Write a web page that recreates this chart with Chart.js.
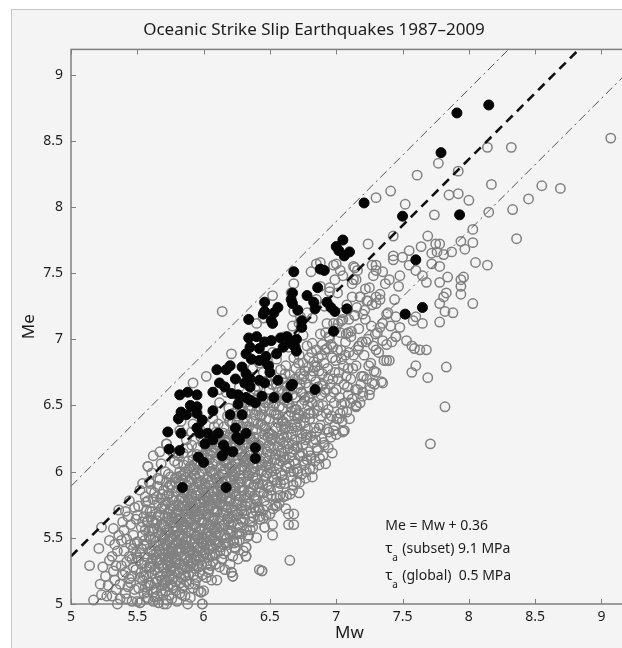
<!DOCTYPE html>
<html>
<head>
<meta charset="utf-8">
<title>Oceanic Strike Slip Earthquakes 1987–2009</title>
<script src="https://cdn.jsdelivr.net/npm/chart.js@4.4.1/dist/chart.umd.min.js"></script>
<style>
  html, body { margin: 0; padding: 0; background: #fff; }
  body { width: 622px; height: 648px; overflow: hidden; position: relative; }
  #panel { position: absolute; left: 11px; top: 9px; width: 700px; height: 700px;
           background: #f4f4f4; border-left: 1px solid #c6c6c6; border-top: 1px solid #c6c6c6; }
  #chart { position: absolute; left: 0; top: 0; }
</style>
</head>
<body>
<div id="panel"></div>
<canvas id="chart" width="704" height="648"></canvas>
<script>
// Axis ranges
const xRange = [5, 9.2];
const yRange = [5, 9.19];
const tickStep = 0.5;

// Reference lines, [Mw, Me] end points
const fitLine = [[5.0, 5.36], [8.84, 9.2]];     // Me = Mw + 0.36
const upperLine = [[5.0, 5.89], [8.31, 9.2]];
const lowerLine = [[5.18, 5.0], [9.2, 9.02]];

// Text block in the lower right
const noteLines = ['Me = Mw + 0.36', '(subset) 9.1 MPa', '(global)  0.5 MPa'];
const noteAnchorMw = 7.37;
const noteRowsMe = [5.59, 5.415, 5.21];

// Subset events (filled), [Mw, Me]
const subsetPts = [
  [8.15,8.77],[7.91,8.71],[7.79,8.41],[7.21,8.03],[7.50,7.93],[7.93,7.94],[7.60,7.60],[7.65,7.24],[7.52,7.19],
  [7.05,7.75],[7.02,7.67],[7.10,7.66],[7.06,7.63],[7.00,7.70],
  [6.98,7.06],[6.84,6.62],[6.68,7.51],[6.88,7.53],[6.91,7.52],[6.86,7.39],
  [6.78,7.33],[6.67,7.35],[6.66,7.30],[6.83,7.28],[6.84,7.23],[6.93,7.28],[6.96,7.24],[6.99,7.21],[7.08,7.23],
  [6.46,7.28],[6.56,7.24],[6.53,7.20],[6.46,7.21],[6.34,7.15],[6.51,7.14],[6.71,7.22],[6.74,7.14],[6.74,7.09],
  [6.67,7.27],[6.45,7.19],[6.52,7.12],
  [6.34,7.01],[6.40,7.02],[6.35,6.94],[6.42,6.93],[6.46,6.98],[6.51,6.99],[6.58,7.01],[6.63,7.02],[6.65,6.97],
  [6.69,6.94],[6.70,6.91],[6.60,6.94],[6.55,6.89],[6.70,7.00],[6.47,6.87],
  [6.32,6.89],[6.36,6.85],[6.42,6.84],[6.49,6.80],[6.50,6.75],
  [6.10,6.77],[6.20,6.80],[6.17,6.77],[6.12,6.67],
  [6.24,6.70],[6.29,6.79],[6.32,6.74],[6.35,6.70],[6.31,6.67],[6.42,6.69],[6.56,6.69],[6.66,6.65],
  [6.16,6.64],[6.21,6.59],[6.26,6.58],[6.32,6.56],[6.35,6.54],[6.26,6.51],[6.35,6.64],
  [6.46,6.67],[6.53,6.56],[6.63,6.56],[6.67,6.66],[6.39,6.52],[6.44,6.57],
  [5.82,6.58],[5.88,6.60],[5.95,6.58],[6.07,6.60],[5.90,6.50],[5.95,6.49],
  [5.83,6.45],[5.81,6.40],[5.87,6.43],[5.91,6.49],[5.95,6.44],[5.99,6.39],[6.07,6.46],[6.20,6.43],[6.29,6.43],
  [5.73,6.30],[5.83,6.29],[5.95,6.33],[5.97,6.29],[6.03,6.29],[6.11,6.29],[6.07,6.24],
  [6.24,6.33],[6.25,6.26],[6.32,6.29],
  [6.15,6.20],[6.17,6.16],[6.22,6.15],[6.14,6.12],[6.27,6.24],[6.39,6.18],[6.39,6.10],
  [5.74,6.17],[5.82,6.16],[5.96,6.11],[6.00,6.07],[6.01,6.21],
  [5.84,5.88],[6.17,5.88]
];

// Global catalogue (open circles), main band
const globalBand = [
  [5.14,5.29],[5.21,5.42],[5.23,5.58],[5.23,5.07],[5.27,5.06],[5.17,5.03],[5.26,5.21],[5.29,5.33],[5.28,5.14],[5.24,5.28],[5.29,5.48],[5.22,5.15],
  [5.31,5.06],[5.32,5.57],[5.34,5.29],[5.36,5.71],[5.33,5.18],[5.35,5.40],[5.38,5.29],[5.38,5.48],[5.37,5.04],[5.31,5.36],[5.34,5.11],[5.39,5.22],
  [5.36,5.52],[5.33,5.45],[5.39,5.62],[5.35,5.00],[5.37,5.15],[5.32,5.25],
  [5.40,5.56],[5.41,5.08],[5.42,5.32],[5.43,5.66],[5.44,5.19],[5.45,5.45],[5.46,5.02],[5.47,5.28],[5.48,5.73],[5.49,5.38],
  [5.41,5.24],[5.42,5.49],[5.43,5.13],[5.44,5.36],[5.45,5.60],[5.46,5.21],[5.47,5.52],[5.48,5.11],[5.49,5.64],[5.40,5.40],
  [5.42,5.04],[5.44,5.78],[5.46,5.34],[5.48,5.46],[5.41,5.70],[5.45,5.16],[5.47,5.42],[5.49,5.26],
  [5.50,5.02],[5.51,5.33],[5.52,5.01],[5.53,5.58],[5.54,5.18],[5.55,5.44],[5.56,5.81],[5.57,5.27],[5.58,5.04],[5.58,5.78],
  [5.59,5.51],[5.50,5.67],[5.51,5.12],[5.52,5.39],[5.53,5.24],[5.54,5.62],[5.55,5.08],[5.56,5.36],[5.57,5.71],[5.58,6.04],
  [5.59,5.16],[5.50,5.47],[5.52,5.86],[5.53,5.30],[5.54,5.52],[5.55,5.21],[5.56,5.13],[5.57,5.45],[5.58,5.35],[5.59,5.92],
  [5.51,5.74],[5.53,5.42],[5.55,5.66],[5.57,5.05],[5.59,5.28],[5.52,5.20],[5.54,5.91],[5.56,5.56],[5.58,5.63],[5.50,5.35],
  [5.60,5.91],[5.60,5.14],[5.61,5.40],[5.61,5.70],[5.62,5.02],[5.62,5.55],[5.63,5.26],[5.63,5.84],[5.64,5.47],[5.64,5.11],
  [5.65,5.63],[5.65,5.33],[5.66,5.01],[5.66,5.76],[5.67,5.94],[5.67,5.21],[5.68,5.52],[5.68,6.06],[5.69,5.38],[5.69,5.08],
  [5.60,5.49],[5.61,5.23],[5.62,5.79],[5.63,5.05],[5.64,5.68],[5.65,5.17],[5.66,5.44],[5.67,5.58],[5.68,5.29],[5.69,5.83],
  [5.60,5.31],[5.61,5.99],[5.62,5.37],[5.63,5.61],[5.64,5.19],[5.65,5.89],[5.66,5.27],[5.67,5.41],[5.68,5.72],[5.69,5.14],
  [5.61,5.56],[5.63,5.44],[5.65,5.06],[5.67,5.66],[5.69,5.50],[5.62,6.12],[5.64,5.35],[5.66,5.54],[5.68,5.10],[5.60,5.66],[5.67,5.34],
  [5.70,5.00],[5.70,5.42],[5.71,5.75],[5.71,5.18],[5.72,6.21],[5.72,5.56],[5.73,5.29],[5.73,5.88],[5.74,5.07],[5.74,5.63],
  [5.75,5.36],[5.75,5.96],[5.76,5.22],[5.76,5.50],[5.77,5.81],[5.77,5.12],[5.78,5.44],[5.78,6.08],[5.79,5.31],[5.79,5.69],
  [5.70,5.60],[5.71,5.34],[5.72,5.03],[5.73,5.48],[5.74,5.83],[5.75,5.15],[5.76,5.66],[5.77,5.39],[5.78,5.25],[5.79,5.92],
  [5.70,5.86],[5.71,5.52],[5.72,5.24],[5.73,5.68],[5.74,5.40],[5.75,5.72],[5.76,5.04],[5.77,5.58],[5.78,5.78],[5.79,5.46],
  [5.70,5.27],[5.71,6.00],[5.72,5.44],[5.73,5.13],[5.74,5.54],[5.75,5.49],[5.76,5.90],[5.77,5.28],[5.78,5.62],[5.79,5.10],
  [5.71,5.66],[5.73,5.38],[5.75,5.25],[5.77,6.14],[5.79,5.55],[5.72,5.92],[5.74,5.20],[5.76,5.34],
  [5.80,5.02],[5.80,5.55],[5.81,5.88],[5.81,5.24],[5.82,6.31],[5.82,5.67],[5.83,5.36],[5.83,5.97],[5.84,5.12],[5.84,5.74],
  [5.85,5.44],[5.85,6.05],[5.86,5.28],[5.86,5.60],[5.87,5.90],[5.87,5.17],[5.88,5.50],[5.88,6.18],[5.89,5.39],[5.89,5.79],
  [5.80,5.71],[5.81,5.42],[5.82,5.08],[5.83,5.59],[5.84,5.94],[5.85,5.22],[5.86,5.78],[5.87,5.47],[5.88,5.32],[5.89,6.02],
  [5.80,5.96],[5.81,5.63],[5.82,5.31],[5.83,5.80],[5.84,5.50],[5.85,5.84],[5.86,5.06],[5.87,5.66],[5.88,5.86],[5.89,5.55],
  [5.80,5.34],[5.81,6.12],[5.82,5.52],[5.83,5.20],[5.84,5.62],[5.85,5.58],[5.86,6.00],[5.87,5.35],[5.88,5.70],[5.89,5.15],
  [5.81,5.75],[5.83,5.46],[5.85,5.30],[5.87,6.24],[5.89,5.64],[5.82,6.00],[5.84,5.26],[5.86,5.42],[5.88,5.00],[5.80,5.85],[5.83,6.38],[5.86,5.70],
  [5.90,5.05],[5.90,5.62],[5.91,5.94],[5.91,5.31],[5.92,6.36],[5.92,5.74],[5.93,5.43],[5.93,6.05],[5.94,5.18],[5.94,5.82],
  [5.95,5.51],[5.95,6.13],[5.96,5.36],[5.96,5.68],[5.97,5.98],[5.97,5.24],[5.98,5.57],[5.98,6.26],[5.99,5.46],[5.99,5.87],
  [5.90,5.78],[5.91,5.49],[5.92,5.12],[5.93,5.66],[5.94,6.01],[5.95,5.29],[5.96,5.86],[5.97,5.55],[5.98,5.40],[5.99,6.10],
  [5.90,6.04],[5.91,5.70],[5.92,5.38],[5.93,5.88],[5.94,5.58],[5.95,5.92],[5.96,5.10],[5.97,5.73],[5.98,5.93],[5.99,5.62],
  [5.90,5.41],[5.91,6.20],[5.92,5.59],[5.93,5.27],[5.94,5.70],[5.95,5.66],[5.96,6.08],[5.97,5.42],[5.98,5.77],[5.98,5.09],
  [5.99,5.22],[5.91,5.83],[5.93,5.53],[5.95,5.37],[5.97,6.32],[5.99,5.72],[5.92,6.09],[5.94,5.33],[5.96,5.49],[5.99,5.00],[5.90,5.92],[5.93,6.45],
  [6.00,5.10],[6.00,5.70],[6.01,6.02],[6.01,5.39],[6.02,6.72],[6.02,5.82],[6.03,5.51],[6.03,6.13],[6.04,5.26],[6.04,5.90],
  [6.05,5.59],[6.05,6.21],[6.06,5.44],[6.06,5.76],[6.07,6.06],[6.07,5.32],[6.08,5.65],[6.08,6.34],[6.09,5.54],[6.09,5.95],
  [6.00,5.86],[6.01,5.57],[6.02,5.20],[6.03,5.74],[6.04,6.09],[6.05,5.37],[6.06,5.94],[6.07,5.63],[6.08,5.48],[6.09,6.18],
  [6.00,6.12],[6.01,5.78],[6.02,5.46],[6.03,5.96],[6.04,5.66],[6.05,6.00],[6.06,5.18],[6.07,5.81],[6.08,6.01],[6.09,5.70],
  [6.00,5.49],[6.01,6.28],[6.02,5.67],[6.03,5.35],[6.04,5.78],[6.05,5.74],[6.06,6.16],[6.07,5.50],[6.08,5.85],[6.09,5.30],
  [6.01,5.91],[6.03,5.61],[6.05,5.45],[6.07,6.40],[6.09,5.80],[6.02,6.17],[6.04,5.41],[6.06,5.57],
  [6.10,5.18],[6.10,5.78],[6.11,6.10],[6.11,5.47],[6.12,6.52],[6.12,5.90],[6.13,5.59],[6.13,6.21],[6.14,5.34],[6.14,5.98],
  [6.15,5.67],[6.15,6.29],[6.16,5.52],[6.16,5.84],[6.17,6.14],[6.17,5.40],[6.18,5.73],[6.18,6.42],[6.19,5.62],[6.19,6.03],
  [6.10,5.94],[6.11,5.65],[6.12,5.28],[6.13,5.82],[6.14,6.17],[6.15,5.45],[6.16,6.02],[6.17,5.71],[6.18,5.56],[6.19,6.26],
  [6.10,6.20],[6.11,5.86],[6.12,5.54],[6.13,6.04],[6.14,5.74],[6.15,6.08],[6.16,5.26],[6.17,5.89],[6.18,6.09],[6.19,5.78],
  [6.10,5.57],[6.11,6.36],[6.12,5.75],[6.13,5.43],[6.14,5.86],[6.15,5.82],[6.16,6.24],[6.17,6.60],[6.18,5.93],[6.14,7.21],[6.19,6.48],[6.12,6.62],
  [6.20,5.30],[6.20,5.86],[6.21,6.18],[6.21,5.55],[6.21,6.89],[6.22,5.21],[6.22,5.98],[6.23,5.67],[6.23,6.29],[6.24,5.42],
  [6.24,6.06],[6.25,5.75],[6.25,6.37],[6.26,5.60],[6.26,5.92],[6.27,6.22],[6.27,5.48],[6.28,5.81],[6.28,6.50],[6.29,5.70],
  [6.29,6.11],[6.20,6.02],[6.21,5.73],[6.22,5.36],[6.23,5.90],[6.24,6.25],[6.25,5.53],[6.26,6.10],[6.27,5.79],[6.28,5.64],
  [6.29,6.34],[6.20,6.28],[6.21,5.94],[6.22,5.62],[6.23,6.12],[6.24,5.82],[6.25,6.16],[6.26,5.34],[6.27,5.97],[6.28,6.17],
  [6.29,5.86],[6.20,5.65],[6.22,6.44],[6.24,5.70],[6.26,6.57],[6.28,6.02],[6.23,5.46],[6.27,6.64],[6.21,5.24],
  [6.30,5.40],[6.30,5.95],[6.31,6.27],[6.31,5.64],[6.32,5.43],[6.32,5.36],[6.32,6.07],[6.33,5.76],[6.33,6.38],[6.34,5.52],
  [6.34,6.15],[6.35,5.84],[6.35,6.46],[6.36,5.69],[6.36,6.01],[6.37,6.31],[6.37,5.58],[6.38,5.90],[6.38,6.58],[6.39,5.79],
  [6.39,6.20],[6.30,6.11],[6.31,5.82],[6.33,5.99],[6.34,6.34],[6.35,5.62],[6.36,6.19],[6.37,5.88],[6.38,5.73],[6.39,6.43],
  [6.30,6.37],[6.31,6.03],[6.32,5.71],[6.33,6.21],[6.34,5.91],[6.35,6.25],[6.37,6.06],[6.38,6.26],[6.39,5.95],[6.31,6.52],
  [6.33,6.66],[6.35,6.08],[6.37,6.78],[6.39,6.62],
  [6.40,5.50],[6.40,6.04],[6.41,6.36],[6.41,5.73],[6.42,5.26],[6.42,5.66],[6.42,5.71],[6.42,6.16],[6.43,5.85],[6.43,6.47],
  [6.44,5.25],[6.44,6.24],[6.45,5.93],[6.45,6.55],[6.46,5.78],[6.46,5.58],[6.46,6.10],[6.47,6.40],[6.47,5.67],[6.48,5.99],
  [6.48,6.68],[6.49,5.88],[6.49,6.29],[6.40,6.20],[6.41,5.91],[6.43,6.08],[6.44,6.43],[6.45,5.71],[6.46,6.28],[6.47,5.97],
  [6.48,5.82],[6.49,6.52],[6.40,6.46],[6.42,6.82],[6.44,6.00],[6.46,6.34],[6.48,6.15],[6.41,6.64],[6.45,6.75],[6.49,6.05],
  [6.50,5.68],[6.50,6.13],[6.51,6.45],[6.51,5.82],[6.52,6.25],[6.52,5.60],[6.53,5.94],[6.53,6.56],[6.54,6.33],[6.54,5.75],
  [6.55,6.02],[6.55,6.64],[6.56,5.87],[6.56,6.19],[6.57,6.49],[6.57,5.76],[6.58,6.08],[6.58,6.77],[6.59,5.97],[6.59,6.38],
  [6.50,6.29],[6.51,6.00],[6.52,5.52],[6.53,6.17],[6.54,6.52],[6.55,5.80],[6.56,6.37],[6.57,6.06],[6.58,5.91],[6.59,6.61],
  [6.50,6.55],[6.52,6.90],[6.54,6.09],[6.56,6.43],[6.58,6.24],[6.51,6.72],[6.55,6.85],[6.59,6.14],
  [6.60,5.81],[6.60,6.22],[6.61,6.54],[6.61,5.91],[6.62,6.34],[6.62,5.72],[6.63,6.03],[6.63,6.65],[6.64,5.68],[6.64,5.60],
  [6.64,6.42],[6.65,5.33],[6.65,6.11],[6.65,6.73],[6.66,5.96],[6.66,6.28],[6.67,6.58],[6.67,5.86],[6.68,5.68],[6.68,5.60],
  [6.68,6.17],[6.68,6.86],[6.69,6.06],[6.69,6.47],[6.60,6.38],[6.61,6.09],[6.62,6.80],[6.63,6.26],[6.64,6.61],[6.66,6.45],
  [6.67,6.15],[6.68,6.00],[6.69,6.70],[6.61,7.02],[6.64,6.94],[6.67,7.10],
  [6.70,5.92],[6.70,6.31],[6.71,6.63],[6.71,6.00],[6.72,6.43],[6.72,5.84],[6.73,6.12],[6.73,6.74],[6.74,6.51],[6.74,5.98],
  [6.75,6.20],[6.75,6.82],[6.76,6.05],[6.76,6.37],[6.77,6.67],[6.77,5.95],[6.78,6.26],[6.78,6.95],[6.79,6.15],[6.79,6.56],
  [6.70,6.47],[6.71,6.18],[6.72,6.88],[6.73,6.35],[6.74,6.70],[6.76,6.54],[6.77,6.24],[6.78,6.09],[6.79,6.79],[6.72,7.12],
  [6.75,7.03],[6.78,7.20],
  [6.80,6.02],[6.80,6.40],[6.81,6.72],[6.81,6.10],[6.82,6.52],[6.82,5.96],[6.83,6.22],[6.83,6.83],[6.84,6.60],[6.84,6.08],
  [6.85,6.30],[6.85,6.92],[6.86,6.16],[6.86,6.46],[6.87,6.76],[6.87,6.05],[6.88,6.35],[6.88,7.04],[6.89,6.25],[6.89,6.65],
  [6.80,6.56],[6.81,6.27],[6.82,6.97],[6.83,6.44],[6.84,6.79],[6.86,6.64],[6.87,6.33],[6.89,6.88],[6.82,7.16],[6.85,7.30],[6.88,7.40],
  [6.90,6.12],[6.90,6.50],[6.91,6.82],[6.91,6.20],[6.92,6.62],[6.92,6.06],[6.93,6.32],[6.93,6.93],[6.94,6.70],[6.94,6.18],
  [6.95,6.40],[6.95,7.01],[6.96,6.26],[6.96,6.56],[6.97,6.86],[6.97,6.14],[6.98,6.31],[6.98,7.12],[6.99,6.35],[6.99,6.75],
  [6.90,6.66],[6.92,7.05],[6.94,6.47],[6.96,6.96],[6.98,6.60],[6.91,7.25],[6.95,7.36],[6.99,7.45],
  [7.00,6.28],[7.00,6.62],[7.01,6.92],[7.02,6.40],[7.02,6.75],[7.03,7.05],[7.04,6.51],[7.04,6.85],[7.05,6.30],[7.05,7.15],
  [7.06,6.66],[7.06,6.31],[7.07,6.98],[7.08,6.45],[7.08,7.26],[7.09,6.78],[7.09,6.58],[7.01,7.35],[7.03,6.44],[7.05,7.48],
  [7.07,6.88],[7.09,7.05],
  [7.10,6.40],[7.11,6.70],[7.11,7.02],[7.12,6.55],[7.13,6.88],[7.14,7.18],[7.15,6.50],[7.15,6.80],[7.16,6.62],[7.17,7.08],
  [7.17,6.95],[7.18,6.52],[7.18,7.32],[7.19,6.72],[7.12,7.42],[7.16,7.52],
  [7.20,6.60],[7.21,6.88],[7.22,7.15],[7.23,6.70],[7.24,7.00],[7.24,7.72],[7.25,6.58],[7.26,6.82],[7.27,7.26],[7.28,6.95],
  [7.28,7.48],[7.29,6.66],[7.22,7.38],
  [7.30,6.75],[7.31,7.05],[7.32,6.90],[7.33,7.30],[7.34,6.68],[7.35,7.12],[7.36,6.84],[7.37,7.42],[7.38,6.96],[7.39,7.20],[7.30,7.52],
  [7.40,6.84],[7.41,7.10],[7.43,7.78],[7.42,6.98],[7.44,7.30],[7.45,7.02],[7.47,7.40],[7.48,7.09]
];

// Global catalogue, extra events where the band is densest
const globalCore = [
  [5.555,5.48],[5.565,5.22],[5.575,5.62],[5.585,5.14],[5.595,5.40],[5.565,5.77],[5.585,5.55],[5.555,5.31],[5.575,5.09],[5.595,5.70],
  [5.605,5.28],[5.615,5.63],[5.625,5.09],[5.635,5.50],[5.645,5.81],[5.655,5.24],[5.665,5.67],[5.675,5.46],[5.685,5.18],[5.695,5.74],
  [5.605,5.86],[5.615,5.34],[5.625,5.57],[5.635,5.16],[5.645,5.39],[5.655,5.95],[5.665,5.31],[5.675,5.80],[5.685,5.60],[5.695,5.28],
  [5.705,5.50],[5.715,5.10],[5.725,5.82],[5.735,5.35],[5.745,5.70],[5.755,5.43],[5.765,5.14],[5.775,5.74],[5.785,5.52],[5.795,5.85],
  [5.705,5.72],[5.715,5.45],[5.725,5.18],[5.735,5.98],[5.745,5.31],[5.755,5.62],[5.765,5.42],[5.775,5.20],[5.785,5.95],[5.795,5.33],
  [5.805,5.41],[5.815,5.78],[5.825,5.16],[5.835,5.52],[5.845,5.86],[5.855,5.35],[5.865,5.68],[5.875,5.27],[5.885,5.61],[5.895,5.93],
  [5.805,5.64],[5.815,5.30],[5.825,5.92],[5.835,5.07],[5.845,5.45],[5.855,5.74],[5.865,5.21],[5.875,5.82],[5.885,5.43],[5.895,5.28],
  [5.805,6.06],[5.825,5.73],[5.845,6.14],[5.865,5.96],[5.885,6.08],
  [5.905,5.35],[5.915,5.80],[5.925,5.22],[5.935,5.60],[5.945,5.95],[5.955,5.43],[5.965,5.76],[5.975,5.33],[5.985,5.68],[5.995,6.00],
  [5.905,5.68],[5.915,5.40],[5.925,6.02],[5.935,5.15],[5.945,5.52],[5.955,5.84],[5.965,5.28],[5.975,5.90],[5.985,5.50],[5.995,5.36],
  [5.915,6.12],[5.935,5.76],[5.955,6.18],[5.975,6.05],[5.995,6.22],
  [6.005,5.44],[6.015,5.88],[6.025,5.30],[6.035,5.68],[6.045,6.03],[6.055,5.52],[6.065,5.85],[6.075,5.42],[6.085,5.76],[6.095,6.08],
  [6.005,5.77],[6.015,5.49],[6.025,6.10],[6.035,5.24],[6.045,5.60],[6.055,5.92],[6.065,5.37],[6.075,5.98],[6.085,5.58],[6.095,5.45],
  [6.015,6.20],[6.035,5.84],[6.055,6.26],[6.075,6.14],[6.095,6.30],
  [6.105,5.52],[6.115,5.96],[6.125,5.40],[6.135,5.77],[6.145,6.11],[6.155,5.60],[6.165,5.93],[6.175,5.50],[6.185,5.84],[6.195,6.16],
  [6.105,5.85],[6.115,5.58],[6.125,6.18],[6.135,5.34],[6.145,5.69],[6.155,6.00],[6.165,5.46],[6.175,6.06],[6.185,5.66],[6.195,5.53],
  [6.115,6.28],[6.135,5.92],[6.155,6.34],[6.175,6.22],[6.195,6.38],
  [6.205,5.60],[6.215,6.04],[6.225,5.48],[6.235,5.85],[6.245,6.19],[6.255,5.68],[6.265,6.01],[6.275,5.58],[6.285,5.92],[6.295,6.24],
  [6.205,5.93],[6.215,5.66],[6.225,6.26],[6.235,5.43],[6.245,5.77],[6.255,6.08],[6.265,5.54],[6.275,6.14],[6.285,5.74],[6.295,5.62],
  [6.215,6.36],[6.235,6.00],[6.255,6.42],[6.275,6.30],[6.295,6.46],
  [6.305,5.68],[6.315,6.12],[6.325,5.56],[6.335,5.93],[6.345,6.27],[6.355,5.76],[6.365,6.09],[6.375,5.66],[6.385,6.00],[6.395,6.32],
  [6.305,6.01],[6.315,5.74],[6.325,6.34],[6.335,5.51],[6.345,5.85],[6.355,6.16],[6.365,5.62],[6.375,6.22],[6.385,5.82],[6.395,5.70],
  [6.315,6.44],[6.335,6.08],[6.355,6.50],[6.375,6.38],[6.395,6.54],
  [6.405,5.78],[6.415,6.20],[6.425,5.64],[6.435,6.01],[6.445,6.35],[6.455,5.84],[6.465,6.17],[6.475,5.74],[6.485,6.08],[6.495,6.40],
  [6.405,6.10],[6.425,6.42],[6.445,5.90],[6.465,6.52],[6.485,6.26],[6.415,6.58],[6.455,6.48],[6.495,6.62],
  [6.505,5.86],[6.515,6.28],[6.525,5.72],[6.535,6.09],[6.545,6.43],[6.555,5.92],[6.565,6.25],[6.575,5.82],[6.585,6.16],[6.595,6.48],
  [6.505,6.18],[6.525,6.50],[6.545,5.98],[6.565,6.60],[6.585,6.34],[6.515,6.66],[6.555,6.56],[6.595,6.70],
  [6.605,5.94],[6.615,6.36],[6.625,5.82],[6.635,6.17],[6.645,6.51],[6.655,6.00],[6.665,6.33],[6.675,5.90],[6.685,6.24],[6.695,6.56],
  [6.605,6.26],[6.625,6.58],[6.645,6.06],[6.665,6.68],[6.685,6.42],[6.615,6.74],[6.655,6.64],[6.695,6.78],
  [6.705,6.02],[6.715,6.44],[6.725,5.92],[6.735,6.25],[6.745,6.59],[6.755,6.08],[6.765,6.41],[6.775,6.00],[6.785,6.32],[6.795,6.64],
  [6.705,6.34],[6.725,6.66],[6.745,6.14],[6.765,6.76],[6.785,6.50],[6.715,6.82],[6.755,6.72],[6.795,6.86],
  [6.805,6.12],[6.815,6.52],[6.825,6.02],[6.835,6.33],[6.845,6.68],[6.855,6.18],[6.865,6.50],[6.875,6.10],[6.885,6.42],[6.895,6.74],
  [6.805,6.44],[6.825,6.76],[6.845,6.24],[6.865,6.86],[6.885,6.58],[6.815,6.90],[6.855,6.80],[6.895,6.96],
  [6.905,6.22],[6.915,6.60],[6.925,6.44],[6.935,6.78],[6.945,6.30],[6.955,6.66],[6.965,6.42],[6.975,6.94],[6.985,6.52],[6.995,6.84],
  [6.915,6.92],[6.945,7.02],[6.975,6.70],[6.995,7.08],
  [7.005,6.40],[7.015,6.70],[7.025,6.56],[7.035,6.92],[7.045,6.38],[7.055,6.80],[7.065,6.52],[7.075,7.04],[7.085,6.64],[7.095,6.90],
  [7.015,7.12],[7.045,7.20],[7.075,6.72],[7.095,7.15],
  [7.105,6.52],[7.125,6.78],[7.145,6.62],[7.165,6.92],[7.185,6.66],[7.115,7.06],[7.155,7.24],[7.195,6.98],
  [7.205,6.72],[7.225,6.98],[7.245,6.80],[7.265,7.10],[7.285,6.76],[7.215,7.22],[7.255,6.62],[7.295,7.04]
];

// Global catalogue, third layer filling the darkest part of the band
const globalCenter = [
  [5.702,5.37],[5.712,5.58],[5.722,5.33],[5.732,5.77],[5.742,5.48],[5.752,5.26],[5.762,5.79],[5.772,5.51],[5.782,5.35],[5.792,5.65],
  [5.707,5.16],[5.727,5.65],[5.747,5.90],[5.767,5.57],[5.787,5.17],
  [5.802,5.47],[5.812,5.70],[5.822,5.39],[5.832,5.87],[5.842,5.56],[5.852,5.14],[5.862,5.86],[5.872,5.58],[5.882,5.40],[5.892,5.73],
  [5.807,5.24],[5.827,5.64],[5.847,5.98],[5.867,5.49],[5.887,5.22],
  [5.902,5.54],[5.912,5.77],[5.922,5.46],[5.932,5.97],[5.942,5.64],[5.952,5.20],[5.962,5.92],[5.972,5.64],[5.982,5.47],[5.992,5.80],
  [5.907,5.30],[5.927,5.72],[5.947,6.06],[5.967,5.57],[5.987,5.29],
  [6.002,5.62],[6.012,5.84],[6.022,5.54],[6.032,6.04],[6.042,5.72],[6.052,5.29],[6.062,6.00],[6.072,5.72],[6.082,5.56],[6.092,5.88],
  [6.007,5.38],[6.027,5.80],[6.047,6.13],[6.067,5.65],[6.087,5.37],
  [6.102,5.70],[6.112,5.92],[6.122,5.63],[6.132,6.12],[6.142,5.80],[6.152,5.38],[6.162,6.08],[6.172,5.80],[6.182,5.64],[6.192,5.96],
  [6.107,5.46],[6.127,5.88],[6.147,6.21],[6.167,5.74],[6.187,5.45],
  [6.202,5.78],[6.212,6.00],[6.222,5.71],[6.232,6.20],[6.242,5.88],[6.252,5.47],[6.262,6.16],[6.272,5.88],[6.282,5.72],[6.292,6.04],
  [6.207,5.54],[6.227,5.96],[6.247,6.29],[6.267,5.82],[6.287,5.53],
  [6.302,5.86],[6.312,6.08],[6.322,5.80],[6.332,6.28],[6.342,5.97],[6.352,5.56],[6.362,6.24],[6.372,5.96],[6.382,5.80],[6.392,6.12],
  [6.402,5.95],[6.412,6.16],[6.422,5.88],[6.432,6.36],[6.442,6.05],[6.452,5.65],[6.462,6.32],[6.472,6.04],[6.482,5.90],[6.492,6.20],
  [6.502,6.03],[6.512,6.24],[6.522,5.96],[6.532,6.44],[6.542,6.13],[6.552,5.74],[6.562,6.40],[6.572,6.12],[6.582,5.99],[6.592,6.28],
  [6.602,6.11],[6.612,6.32],[6.622,6.04],[6.632,6.52],[6.642,6.21],[6.652,5.83],[6.662,6.48],[6.672,6.20],[6.682,6.08],[6.692,6.36],
  [6.702,6.19],[6.712,6.40],[6.722,6.12],[6.732,6.60],[6.742,6.29],[6.762,6.56],[6.772,6.28],[6.792,6.44]
];

// Global catalogue, scattered events around and above the band
const globalSparse = [
  [9.07,8.52],[8.14,8.45],[8.32,8.45],[7.77,8.33],[7.92,8.27],[7.61,8.24],[8.17,8.17],[7.41,8.12],[7.30,8.07],
  [7.85,8.09],[7.92,8.10],[8.00,8.05],[8.55,8.16],[8.69,8.14],[8.45,8.06],[7.52,8.02],[7.74,7.94],[8.15,7.96],
  [8.33,7.98],[8.03,7.83],[7.69,7.78],[7.64,7.70],[7.55,7.67],[7.75,7.72],[7.78,7.72],[7.76,7.66],[7.81,7.64],
  [7.72,7.65],[7.87,7.66],[7.97,7.68],[7.94,7.74],[8.03,7.73],[8.36,7.76],[7.43,7.63],
  [8.05,7.58],[8.14,7.56],[7.94,7.45],[7.94,7.40],[7.94,7.34],[8.03,7.27],[7.83,7.35],[7.81,7.32],[7.78,7.27],
  [7.88,7.20],[7.82,7.21],[7.78,7.13],[7.83,6.79],[7.57,6.95],[7.59,6.93],[7.63,6.92],[7.68,6.92],[7.60,6.80],
  [7.57,6.75],[7.69,6.71],[7.82,6.49],[7.71,6.21],
  [7.78,7.55],[7.84,7.47],[7.78,7.43],[7.68,7.43],[7.65,7.48],[7.60,7.52],[7.55,7.56],[7.48,7.48],[7.40,7.45],
  [7.35,7.51],[7.43,7.60],[7.50,7.62],[7.72,7.57],[7.96,7.47],[7.25,7.39],[7.33,7.34],[7.23,7.29],[7.30,7.27],
  [7.18,7.32],[7.38,7.19],[7.45,7.17],[7.58,7.14],[7.65,7.12],[7.60,7.17],[7.33,7.09],[7.45,7.02],[7.53,6.99],
  [7.35,6.99],[7.38,6.84],[7.30,6.92],[7.27,6.67],[7.35,6.67],[7.20,6.57],[7.15,6.49],[7.05,6.46],
  [7.30,7.56],[7.27,7.56],[7.14,7.54],[7.03,7.52],[7.00,7.57],[6.88,7.58],[6.95,7.39],[7.13,7.45],[7.15,7.45],
  [7.12,7.32],[7.24,7.29],[7.30,7.32],[7.20,7.19],[7.14,7.18],[7.04,7.14],[6.93,7.12],
  [6.68,7.42],[6.66,7.35],[7.13,7.55],[6.81,7.51],[6.85,7.57],[6.98,7.56],[6.52,7.33],[6.68,7.21],[6.73,7.17],
  [6.45,7.16],[6.40,7.12],[5.92,6.67],[5.91,6.30],[5.67,6.15],[5.72,6.21],[5.81,6.14],[5.58,6.04],
  [6.44,5.25],[6.22,5.21],[6.21,5.24],[6.32,5.43],[6.32,5.36],[6.42,5.71],[6.50,5.68],[6.46,5.58],
  [7.06,6.31],[7.15,6.50],[5.98,5.09],[5.99,5.00],[5.52,5.01],[5.66,5.01],[5.72,5.00]
];

const toXY = pts => pts.map(([x, y]) => ({ x, y }));
const uiFont = "'Noto Sans', 'DejaVu Sans', sans-serif";
Chart.defaults.font.family = uiFont;
Chart.defaults.color = '#1c1c1c';

// Axes box, inward ticks and the text block
const frameAndNotes = {
  id: 'frameAndNotes',
  afterDatasetsDraw(chart) {
    const { ctx, chartArea: a, scales: { x, y } } = chart;
    ctx.save();
    ctx.strokeStyle = '#7f7f7f';
    ctx.lineWidth = 1;
    ctx.beginPath();
    x.ticks.forEach(t => {
      const px = Math.round(x.getPixelForValue(t.value)) + 0.5;
      ctx.moveTo(px, a.bottom); ctx.lineTo(px, a.bottom - 5);
      ctx.moveTo(px, a.top); ctx.lineTo(px, a.top + 5);
    });
    y.ticks.forEach(t => {
      const py = Math.round(y.getPixelForValue(t.value)) + 0.5;
      ctx.moveTo(a.left, py); ctx.lineTo(a.left + 5, py);
      ctx.moveTo(a.right, py); ctx.lineTo(a.right - 5, py);
    });
    ctx.stroke();
    ctx.lineWidth = 1.5;
    ctx.strokeRect(a.left, a.top, a.right - a.left, a.bottom - a.top);

    const nx = x.getPixelForValue(noteAnchorMw);
    const rows = noteRowsMe.map(v => y.getPixelForValue(v));
    ctx.fillStyle = '#1c1c1c';
    ctx.textBaseline = 'middle';
    ctx.textAlign = 'left';
    ctx.font = '14px ' + uiFont;
    ctx.fillText(noteLines[0], nx, rows[0]);
    for (let i = 1; i < noteLines.length; i++) {
      ctx.font = '15px ' + uiFont;
      ctx.fillText('τ', nx, rows[i]);
      ctx.font = '10px ' + uiFont;
      ctx.fillText('a', nx + 7, rows[i] + 9);
      ctx.font = '14px ' + uiFont;
      ctx.fillText(noteLines[i], nx + 17, rows[i]);
    }
    ctx.restore();
  }
};

const lineStyle = (pts, color, width, dash) => ({
  data: toXY(pts),
  showLine: true,
  borderColor: color,
  borderWidth: width,
  borderDash: dash,
  pointRadius: 0,
  fill: false
});

const tickLabel = v => String(Math.round(v * 10) / 10);

new Chart(document.getElementById('chart'), {
  type: 'scatter',
  data: {
    datasets: [
      {
        label: 'subset',
        data: toXY(subsetPts),
        pointRadius: 5,
        pointBackgroundColor: '#050505',
        pointBorderColor: '#050505',
        pointBorderWidth: 1,
        clip: false
      },
      lineStyle(fitLine, '#111', 2.6, [9, 6]),
      lineStyle(upperLine, '#555', 1, [9, 4, 2, 4]),
      lineStyle(lowerLine, '#555', 1, [9, 4, 2, 4]),
      {
        label: 'global',
        data: toXY(globalBand.concat(globalCore, globalCenter, globalSparse)),
        pointRadius: 4.7,
        pointBackgroundColor: 'rgba(0,0,0,0)',
        pointBorderColor: '#808080',
        pointBorderWidth: 1.5,
        clip: false
      }
    ]
  },
  options: {
    responsive: false,
    animation: false,
    events: [],
    layout: { padding: { left: 0, top: 0, right: 76, bottom: 0 } },
    plugins: {
      legend: { display: false },
      tooltip: { enabled: false },
      title: {
        display: true,
        text: 'Oceanic Strike Slip Earthquakes 1987–2009',
        font: { size: 17, weight: 'normal' },
        color: '#1c1c1c',
        padding: { top: 20, bottom: 9 }
      }
    },
    scales: {
      x: {
        type: 'linear',
        min: xRange[0],
        max: xRange[1],
        grid: { display: false, drawTicks: false },
        border: { display: false },
        ticks: { stepSize: tickStep, includeBounds: false, padding: 5, font: { size: 14 }, callback: tickLabel },
        title: { display: true, text: 'Mw', font: { size: 17 }, padding: { top: 0, bottom: 5 } },
        afterFit(scale) { scale.height = 44; }
      },
      y: {
        type: 'linear',
        min: yRange[0],
        max: yRange[1],
        grid: { display: false, drawTicks: false },
        border: { display: false },
        ticks: { stepSize: tickStep, includeBounds: false, padding: 8, font: { size: 14 }, callback: tickLabel },
        title: { display: true, text: 'Me', font: { size: 17 }, padding: { top: 19, bottom: 0 } },
        afterFit(scale) { scale.width = 71; }
      }
    }
  },
  plugins: [frameAndNotes]
});
</script>
</body>
</html>
